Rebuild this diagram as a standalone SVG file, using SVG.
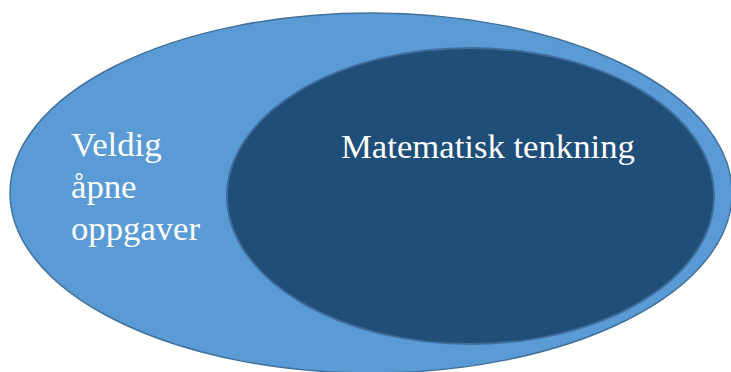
<svg xmlns="http://www.w3.org/2000/svg" width="731" height="372" viewBox="0 0 731 372">
<style>
.lbl{font-family:"Liberation Serif","Times New Roman",serif;font-size:34.7px;fill:#ffffff}
</style>
<rect width="731" height="372" fill="#ffffff"/>
<g id="outer">
<ellipse cx="371" cy="193" rx="361" ry="180" fill="#5B9BD5" stroke="#41719C" stroke-width="1.5"/>
<text class="lbl" x="71" y="156">Veldig</text>
<text class="lbl" x="71" y="198">åpne</text>
<text class="lbl" x="71" y="240">oppgaver</text>
</g>
<g id="inner">
<ellipse cx="470.5" cy="196" rx="243.5" ry="148" fill="#1F4E79" stroke="#3F6E9E" stroke-width="2"/>
<text class="lbl" x="341" y="158">Matematisk tenkning</text>
</g>
<g id="connectors"/>
</svg>
